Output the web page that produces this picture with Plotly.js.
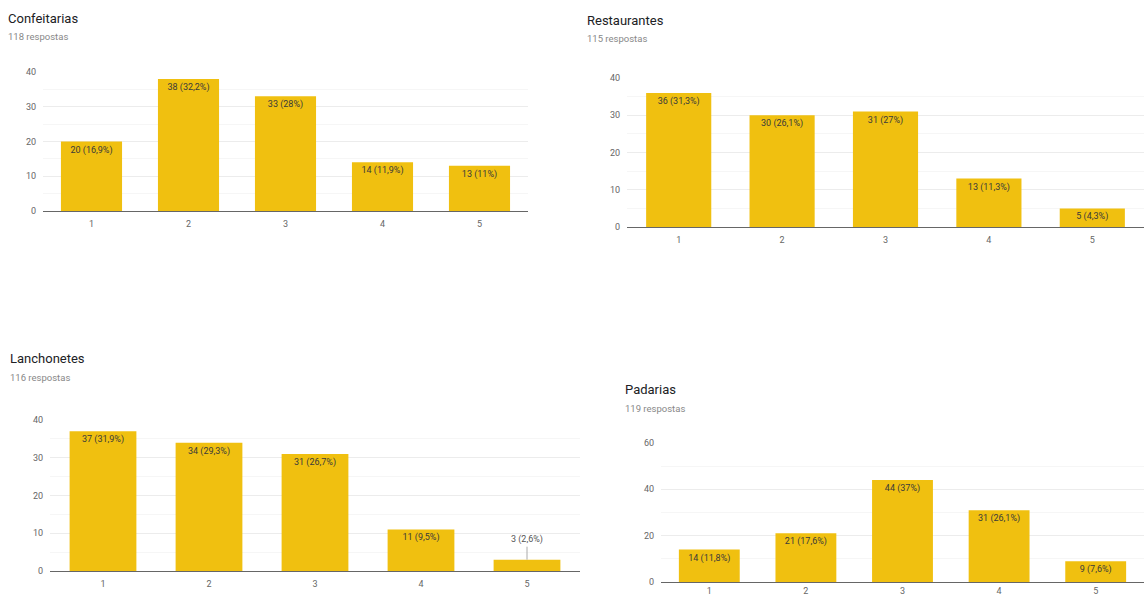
<!DOCTYPE html>
<html>
<head>
<meta charset="utf-8">
<script src="https://cdn.plot.ly/plotly-3.0.1.min.js"></script>
<style>
  html, body { margin: 0; padding: 0; background: #fff; }
  #chart { width: 1146px; height: 597px; }
</style>
</head>
<body>
<div id="chart"></div>
<script>
// Rating scale shared by every question
const categories = ['1', '2', '3', '4', '5'];

// Answer counts per establishment type
const confeitarias = [20, 38, 33, 14, 13];
const restaurantes = [36, 30, 31, 13, 5];
const lanchonetes  = [37, 34, 31, 11, 3];
const padarias     = [14, 21, 44, 31, 9];

// Number of answers per question
const totals = { confeitarias: 118, restaurantes: 115, lanchonetes: 116, padarias: 119 };

const titles = ['Confeitarias', 'Restaurantes', 'Lanchonetes', 'Padarias'];

const W = 1146, H = 597;
const BAR = '#F0C010';
const FONT = 'Roboto, Arial, sans-serif';

// "20 (16,9%)" style label, comma as decimal separator
function label(v, total) {
  const p = Math.round(v / total * 1000) / 10;
  return v + ' (' + String(p).replace('.', ',') + '%)';
}

// Panel geometry in pixels: plot left/right, y of top tick, y of zero line,
// gap between zero line and category labels
const panels = [
  { vals: confeitarias, total: totals.confeitarias, x0: 43,  x1: 528,  yTop: 72,  yZero: 211, ymax: 40, dtick: 10, tx: 6,   ty: 18,  gap: 6 },
  { vals: restaurantes, total: totals.restaurantes, x0: 627, x1: 1144, yTop: 78,  yZero: 227, ymax: 40, dtick: 10, tx: 585, ty: 20,  gap: 6 },
  { vals: lanchonetes,  total: totals.lanchonetes,  x0: 50,  x1: 580,  yTop: 420, yZero: 571, ymax: 40, dtick: 10, tx: 8,   ty: 358, gap: 6 },
  { vals: padarias,     total: totals.padarias,     x0: 661, x1: 1144, yTop: 443, yZero: 582, ymax: 60, dtick: 20, tx: 623, ty: 389, gap: 2 }
];

const data = [];
const layout = {
  width: W, height: H,
  margin: { l: 0, r: 0, t: 0, b: 0 },
  paper_bgcolor: '#fff',
  plot_bgcolor: '#fff',
  showlegend: false,
  bargap: 0.37,
  font: { family: FONT, color: '#666', size: 9 },
  annotations: [],
  shapes: []
};

panels.forEach((p, i) => {
  const n = i === 0 ? '' : String(i + 1);
  const xa = 'x' + n, ya = 'y' + n;
  // bars too short to hold their label get it above, with a leader line
  const short = p.vals.map(v => (v / p.ymax) * (p.yZero - p.yTop) < 14);
  const texts = p.vals.map(v => label(v, p.total));

  data.push({
    type: 'bar',
    x: categories,
    y: p.vals,
    xaxis: xa, yaxis: ya,
    marker: { color: BAR },
    text: texts.map((t, k) => short[k] ? '' : t),
    textposition: 'inside',
    insidetextanchor: 'end',
    textangle: 0,
    constraintext: 'none',
    textfont: { family: FONT, size: 9, color: '#3a3a3a' },
    hoverinfo: 'skip'
  });

  p.vals.forEach((v, k) => {
    if (short[k]) {
      layout.annotations.push({
        xref: xa, yref: ya, x: k, y: v,
        text: texts[k], showarrow: true, arrowhead: 0, arrowwidth: 1,
        arrowcolor: '#aaa', ax: 0, ay: -20, standoff: 0,
        font: { family: FONT, size: 9, color: '#555' }
      });
    }
  });

  layout['xaxis' + n] = {
    domain: [p.x0 / W, p.x1 / W],
    anchor: ya,
    type: 'category',
    range: [-0.5, categories.length - 0.5],
    showgrid: false,
    zeroline: false,
    showline: false,
    ticks: '',
    ticklabelstandoff: p.gap,
    tickfont: { size: 9, color: '#666' },
    fixedrange: true
  };
  layout['yaxis' + n] = {
    domain: [(H - p.yZero) / H, (H - p.yTop) / H],
    anchor: xa,
    range: [0, p.ymax],
    dtick: p.dtick,
    tick0: 0,
    showgrid: true,
    gridcolor: '#ececec',
    gridwidth: 1,
    minor: { dtick: p.dtick / 2, showgrid: true, gridcolor: '#f6f6f6', gridwidth: 1 },
    zeroline: true,
    zerolinecolor: '#666',
    zerolinewidth: 1,
    showline: false,
    ticks: '',
    ticklabelstandoff: 6,
    tickfont: { size: 9, color: '#666' },
    fixedrange: true
  };

  layout.annotations.push({
    xref: 'paper', yref: 'paper',
    x: p.tx / W, y: (H - p.ty) / H,
    xanchor: 'left', yanchor: 'middle',
    text: titles[i], showarrow: false,
    font: { family: FONT, size: 13, color: '#202124' }
  });
  layout.annotations.push({
    xref: 'paper', yref: 'paper',
    x: p.tx / W, y: (H - (p.ty + 19)) / H,
    xanchor: 'left', yanchor: 'middle',
    text: p.total + ' respostas', showarrow: false,
    font: { family: FONT, size: 9.5, color: '#888' }
  });
});

Plotly.newPlot('chart', data, layout, { displayModeBar: false, staticPlot: true });
</script>
</body>
</html>
